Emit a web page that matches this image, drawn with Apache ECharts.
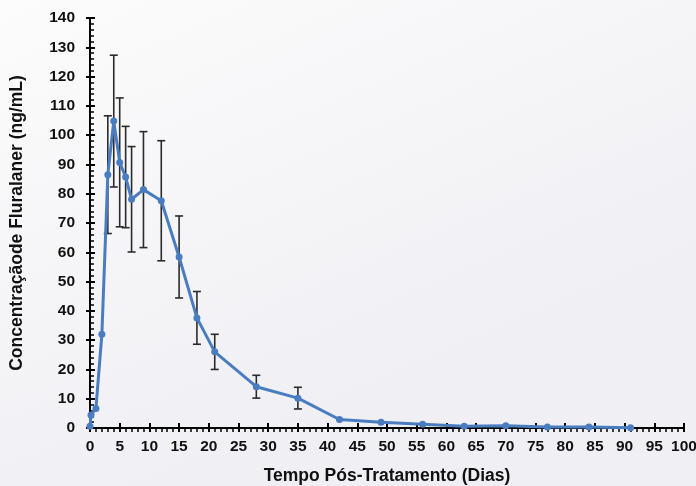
<!DOCTYPE html>
<html>
<head>
<meta charset="utf-8">
<script src="https://cdn.jsdelivr.net/npm/echarts@6/dist/echarts.min.js"></script>
<style>
html,body{margin:0;padding:0;background:#f4f4f7;}
#chart{width:696px;height:486px;}
</style>
</head>
<body>
<div id="chart"></div>
<script>
// Data
var days = [0, 0.17, 1, 2, 3, 4, 5, 6, 7, 9, 12, 15, 18, 21, 28, 35, 42, 49, 56, 63, 70, 77, 84, 91];
var means = [0.6, 4.4, 6.7, 32, 86.5, 104.8, 90.7, 85.7, 78.1, 81.4, 77.6, 58.4, 37.6, 26, 14.1, 10.2, 2.9, 2.0, 1.3, 0.6, 0.75, 0.3, 0.3, 0.1];
var sds = [null, null, null, null, 20.1, 22.5, 22, 17.3, 18, 19.8, 20.5, 14, 9, 6, 3.9, 3.7, null, null, null, null, null, null, null, null];
var xTitle = 'Tempo Pós-Tratamento (Dias)';
var yTitle = 'Concentraçãode Fluralaner (ng/mL)';

var lineData = days.map(function (d, i) { return [d, means[i]]; });
var errData = [];
days.forEach(function (d, i) {
  if (sds[i] != null) errData.push([d, means[i] - sds[i], means[i] + sds[i]]);
});

var font = '"Liberation Sans", Arial, sans-serif';
var chart = echarts.init(document.getElementById('chart'), null, {renderer: 'canvas'});
var xBase = {min: 0, max: 100, interval: 5, type: 'value', gridIndex: 0};
var yBase = {min: 0, max: 140, interval: 10, type: 'value', gridIndex: 0};
chart.setOption({
  backgroundColor: {
    type: 'linear', x: 0, y: 0, x2: 0.3, y2: 1,
    colorStops: [{offset: 0, color: '#fcfcfc'}, {offset: 1, color: '#efeff4'}]
  },
  animation: false,
  grid: {left: 90, right: 12, top: 18, bottom: 58, containLabel: false, outerBoundsMode: 'none'},
  xAxis: [
    Object.assign({}, xBase, {
      name: xTitle, nameLocation: 'middle', nameGap: 39,
      nameTextStyle: {fontFamily: font, fontWeight: 'bold', fontSize: 17.5, color: '#111'},
      axisLine: {show: true, lineStyle: {color: '#000', width: 2}},
      axisTick: {show: true, inside: false, length: 4, lineStyle: {color: '#000', width: 2}},
      minorTick: {show: true, splitNumber: 5, length: 4, lineStyle: {color: '#000', width: 1.5}},
      axisLabel: {fontFamily: font, fontWeight: 'bold', fontSize: 15.5, color: '#111', margin: 11},
      splitLine: {show: false}
    }),
    Object.assign({}, xBase, {
      position: 'bottom',
      axisLine: {show: false},
      axisTick: {show: true, inside: true, length: 5, lineStyle: {color: '#000', width: 2}},
      axisLabel: {show: false},
      splitLine: {show: false}
    })
  ],
  yAxis: [
    Object.assign({}, yBase, {
      name: yTitle, nameLocation: 'middle', nameGap: 64,
      nameTextStyle: {fontFamily: font, fontWeight: 'bold', fontSize: 17.5, color: '#111'},
      axisLine: {show: true, lineStyle: {color: '#000', width: 2}},
      axisTick: {show: true, inside: false, length: 4, lineStyle: {color: '#000', width: 2}},
      axisLabel: {fontFamily: font, fontWeight: 'bold', fontSize: 15.5, color: '#111', margin: 15},
      splitLine: {show: false}
    }),
    Object.assign({}, yBase, {
      position: 'left',
      axisLine: {show: false},
      axisTick: {show: true, inside: true, length: 5, lineStyle: {color: '#000', width: 2}},
      minorTick: {show: true, splitNumber: 5, length: 4, lineStyle: {color: '#000', width: 1.5}},
      axisLabel: {show: false},
      splitLine: {show: false}
    })
  ],
  series: [
    {
      type: 'custom',
      xAxisIndex: 0, yAxisIndex: 0,
      data: errData,
      z: 1,
      renderItem: function (params, api) {
        var x = api.value(0);
        var lo = api.coord([x, api.value(1)]);
        var hi = api.coord([x, api.value(2)]);
        var w = 4;
        var style = {stroke: '#2b2b2b', lineWidth: 1.6};
        return {
          type: 'group',
          children: [
            {type: 'line', shape: {x1: hi[0], y1: hi[1], x2: lo[0], y2: lo[1]}, style: style},
            {type: 'line', shape: {x1: hi[0] - w, y1: hi[1], x2: hi[0] + w, y2: hi[1]}, style: style},
            {type: 'line', shape: {x1: lo[0] - w, y1: lo[1], x2: lo[0] + w, y2: lo[1]}, style: style}
          ]
        };
      }
    },
    {
      type: 'line',
      xAxisIndex: 0, yAxisIndex: 0,
      data: lineData,
      z: 3,
      symbol: 'circle', symbolSize: 7,
      lineStyle: {color: '#4a7cc0', width: 3},
      itemStyle: {color: '#4a7cc0'}
    }
  ]
});
</script>
</body>
</html>
